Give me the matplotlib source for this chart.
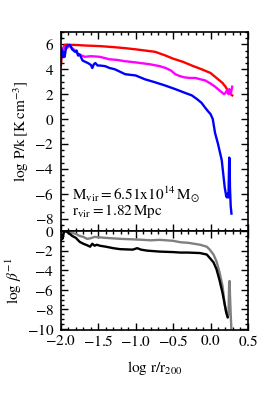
import numpy as np
import matplotlib.pyplot as plt
from matplotlib.ticker import MultipleLocator, FuncFormatter

plt.rcParams['font.family'] = 'serif'
plt.rcParams['font.serif'] = ['Liberation Serif', 'DejaVu Serif']
plt.rcParams['mathtext.fontset'] = 'stix'
plt.rcParams['font.size'] = 11

# pressure profiles, log P/k vs log r/r200
red_x = [-2.0, -1.99, -1.97, -1.95, -1.92, -1.8, -1.65, -1.48, -1.3, -1.15, -1.0, -0.87,
         -0.74, -0.6, -0.5, -0.37, -0.25, -0.12, 0.0, 0.06, 0.12, 0.16, 0.2, 0.23, 0.26, 0.28, 0.29]
red_y = [4.3, 5.0, 5.7, 5.95, 5.97, 5.95, 5.9, 5.86, 5.78, 5.7, 5.6, 5.5,
         5.4, 5.1, 4.85, 4.6, 4.3, 4.0, 3.7, 3.4, 3.1, 2.9, 2.6, 2.3, 2.05, 1.95, 1.9]

mag_x = [-2.0, -1.99, -1.98, -1.96, -1.94, -1.91, -1.88, -1.85, -1.81, -1.77, -1.72, -1.68,
         -1.6, -1.48, -1.35, -1.25, -1.15, -1.0, -0.81, -0.68, -0.6, -0.53, -0.47, -0.41,
         -0.35, -0.28, -0.2, -0.14, -0.07, 0.0, 0.05, 0.1, 0.15, 0.18, 0.2, 0.22, 0.24,
         0.25, 0.26, 0.27, 0.28, 0.29]
mag_y = [5.2, 5.7, 5.3, 5.8, 5.6, 5.75, 5.9, 5.7, 5.5, 5.2, 5.1, 5.0,
         5.05, 5.0, 4.8, 4.75, 4.65, 4.55, 4.4, 4.25, 4.1, 3.9, 3.6, 3.45,
         3.35, 3.3, 3.3, 3.2, 3.1, 2.85, 2.65, 2.4, 2.15, 2.0, 2.1, 2.3, 2.0,
         2.4, 2.2, 2.0, 2.3, 2.6]

blue_x = [-2.0, -1.99, -1.98, -1.97, -1.96, -1.95, -1.93, -1.91, -1.88, -1.85, -1.81,
          -1.79, -1.77, -1.75, -1.71, -1.64, -1.6, -1.58, -1.56, -1.54, -1.51, -1.48,
          -1.41, -1.35, -1.28, -1.21, -1.14, -1.0, -0.88, -0.74, -0.61, -0.47, -0.34,
          -0.25, -0.18, -0.12, -0.07, -0.03, 0.0, 0.03, 0.06, 0.1, 0.15, 0.19, 0.21,
          0.22, 0.23, 0.24, 0.25, 0.255, 0.26, 0.27, 0.28]
blue_y = [4.8, 5.6, 5.0, 5.4, 5.3, 5.0, 5.8, 5.9, 5.95, 5.6, 5.4,
          5.5, 5.1, 5.2, 4.7, 4.5, 4.35, 4.1, 4.4, 4.5, 4.3, 4.3,
          4.25, 4.1, 4.0, 3.8, 3.6, 3.5, 3.2, 2.95, 2.7, 2.4, 2.1,
          1.9, 1.6, 1.3, 0.9, 0.6, 0.4, 0.0, -1.1, -2.0, -3.3, -5.5, -6.2,
          -6.3, -6.0, -6.3, -3.1, -3.2, -5.5, -7.0, -7.6]

# magnetic pressure ratio, log beta^-1
gray_x = [-2.0, -1.99, -1.98, -1.96, -1.94, -1.9, -1.85, -1.8, -1.75, -1.7, -1.65, -1.61,
          -1.55, -1.48, -1.4, -1.3, -1.2, -1.04, -0.9, -0.8, -0.68, -0.5, -0.4, -0.3,
          -0.14, -0.05, -0.01, 0.04, 0.08, 0.12, 0.16, 0.19, 0.21, 0.23, 0.24, 0.25,
          0.255, 0.26, 0.27, 0.28]
gray_y = [-0.8, -0.3, -0.6, -0.1, 0.0, -0.1, -0.2, -0.3, -0.5, -0.6, -0.8, -0.75,
          -0.6, -0.65, -0.7, -0.75, -0.8, -0.85, -0.9, -0.95, -0.9, -1.0, -1.15, -1.2,
          -1.4, -1.6, -1.9, -2.4, -3.1, -4.2, -5.6, -7.5, -8.3, -8.8, -8.5, -5.2,
          -5.1, -6.5, -8.5, -10.2]

black_x = [-2.0, -1.99, -1.98, -1.96, -1.93, -1.9, -1.88, -1.85, -1.8, -1.75, -1.7,
           -1.65, -1.61, -1.58, -1.55, -1.52, -1.48, -1.4, -1.3, -1.21, -1.04, -0.98,
           -0.93, -0.85, -0.68, -0.5, -0.4, -0.3, -0.14, -0.05, -0.01, 0.04, 0.08,
           0.12, 0.16, 0.19, 0.21, 0.23]
black_y = [-1.0, -0.4, -0.8, -0.1, 0.0, -0.2, -0.3, -0.5, -0.7, -1.1, -1.3,
           -1.45, -1.6, -1.3, -1.5, -1.4, -1.5, -1.6, -1.75, -1.85, -1.9, -1.75,
           -1.9, -2.0, -2.1, -2.15, -2.2, -2.2, -2.25, -2.4, -2.75, -3.2, -3.9,
           -5.0, -6.3, -7.5, -8.3, -8.8]

int_fmt = FuncFormatter(lambda v, p: r'$%d$' % round(v))
dec_fmt = FuncFormatter(lambda v, p: r'$%.1f$' % v)

fig = plt.figure(figsize=(2.66, 3.99), dpi=100)
ax1 = fig.add_axes([0.229, 0.421, 0.703, 0.499])
ax2 = fig.add_axes([0.229, 0.173, 0.703, 0.248], sharex=ax1)

ax1.plot(red_x, red_y, color='#ff0000', lw=1.7)
ax1.plot(mag_x, mag_y, color='#ff00ff', lw=1.7)
ax1.plot(blue_x, blue_y, color='#0000ff', lw=1.7)
ax1.set_ylim(-9, 7)
ax1.set_ylabel(r'$\log\,\mathrm{P/k\,[K\,cm^{-3}]}$', labelpad=2)
ax1.set_yticks([-8, -6, -4, -2, 0, 2, 4, 6])
ax1.yaxis.set_minor_locator(MultipleLocator(0.5))
ax1.yaxis.set_major_formatter(int_fmt)
ax1.text(-1.85, -6.7, '$\\mathrm{M_{vir}}=\\mathrm{6.51x10^{14}\\,M_{\\odot}}$\n$\\mathrm{r_{vir}}=\\mathrm{1.82\\,Mpc}$',
         fontsize=11, va='center', linespacing=0.8)
plt.setp(ax1.get_xticklabels(), visible=False)

ax2.plot(gray_x, gray_y, color='#808080', lw=1.7)
ax2.plot(black_x, black_y, color='black', lw=1.7)
ax2.set_ylim(-10.1, 0)
ax2.set_xlim(-2.0, 0.5)
ax2.set_yticks([-10, -8, -6, -4, -2, 0])
ax2.yaxis.set_minor_locator(MultipleLocator(0.5))
ax2.yaxis.set_major_formatter(int_fmt)
ax2.set_ylabel(r'$\log\,\beta^{-1}$', labelpad=2)
ax2.set_xlabel(r'$\log\,\mathrm{r/r_{200}}$', labelpad=7)
ax2.xaxis.set_major_locator(MultipleLocator(0.5))
ax2.xaxis.set_minor_locator(MultipleLocator(0.1))
ax2.xaxis.set_major_formatter(dec_fmt)

for ax in (ax1, ax2):
    ax.tick_params(which='both', direction='in', top=True, right=True, width=1)
    ax.tick_params(which='major', length=5, pad=3)
    ax.tick_params(which='minor', length=2.5)
    ax.tick_params(axis='y', which='major', pad=5)
    for s in ax.spines.values():
        s.set_linewidth(1.2)

fig.align_ylabels([ax1, ax2])
fig.savefig('out.png', dpi=100)
